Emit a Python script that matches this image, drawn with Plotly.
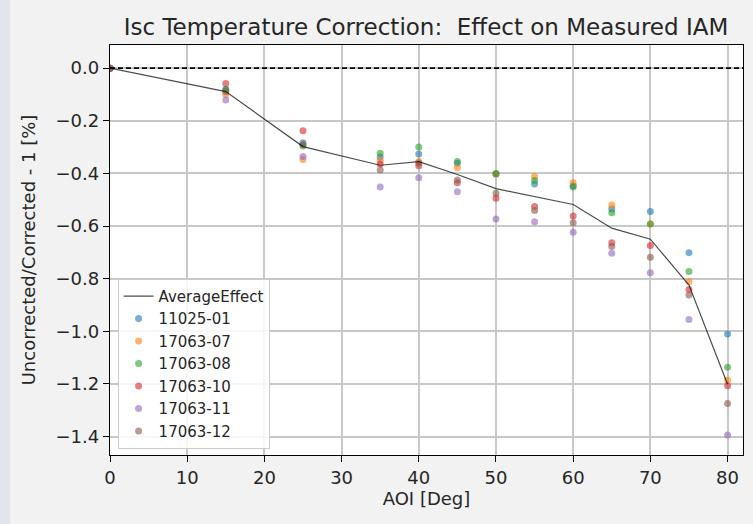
import plotly.graph_objects as go

aoi = [0, 15, 25, 35, 40, 45, 50, 55, 60, 65, 70, 75, 80]

s_11025_01 = [0.0, -0.080, -0.283, -0.338, -0.326, -0.361, -0.402, -0.440, -0.447, -0.535, -0.545, -0.701, -1.010]
s_17063_07 = [0.0, -0.100, -0.347, -0.351, -0.355, -0.378, -0.402, -0.412, -0.435, -0.520, -0.592, -0.811, -1.185]
s_17063_08 = [0.0, -0.083, -0.296, -0.323, -0.300, -0.355, -0.400, -0.427, -0.452, -0.549, -0.592, -0.773, -1.137]
s_17063_10 = [0.0, -0.058, -0.238, -0.364, -0.371, -0.435, -0.494, -0.526, -0.562, -0.663, -0.674, -0.841, -1.207]
s_17063_11 = [0.0, -0.121, -0.336, -0.452, -0.416, -0.470, -0.573, -0.584, -0.624, -0.703, -0.777, -0.955, -1.394]
s_17063_12 = [0.0, -0.090, -0.290, -0.387, -0.360, -0.425, -0.475, -0.541, -0.587, -0.678, -0.719, -0.862, -1.274]

average_effect = [0.0, -0.089, -0.298, -0.369, -0.355, -0.404, -0.458, -0.488, -0.518, -0.608, -0.650, -0.824, -1.201]

series_names = ["11025-01", "17063-07", "17063-08", "17063-10", "17063-11", "17063-12"]
series_values = [s_11025_01, s_17063_07, s_17063_08, s_17063_10, s_17063_11, s_17063_12]
colors = ["#1f77b4", "#ff7f0e", "#2ca02c", "#d62728", "#9467bd", "#8c564b"]

x_ticks = [0, 10, 20, 30, 40, 50, 60, 70, 80]
y_ticks = [0.0, -0.2, -0.4, -0.6, -0.8, -1.0, -1.2, -1.4]

FONT = "DejaVu Sans"
W, H = 753, 524
ML, MR, MT, MB = 110, 10, 45, 69
PW = W - ML - MR

fig = go.Figure()
for name, vals, c in zip(series_names, series_values, colors):
    fig.add_trace(go.Scatter(
        x=aoi, y=vals, mode="markers", name=name,
        marker=dict(color=c, size=7, opacity=0.6, line=dict(width=0)),
    ))

fig.add_trace(go.Scatter(
    x=aoi, y=average_effect, mode="lines", name="AverageEffect",
    line=dict(color="rgba(0,0,0,0.7)", width=1.2), legendrank=1,
))

fig.add_shape(type="line", xref="x domain", yref="y", x0=0, x1=1, y0=0, y1=0,
              line=dict(color="black", width=1.6, dash="5px,3px"))

# faint strip at the left edge of the page
fig.add_shape(type="rect", xref="paper", yref="paper", x0=-ML / PW, x1=-(ML - 10) / PW, y0=-0.3, y1=1.3,
              fillcolor="#e2e6ec", line=dict(width=0), layer="below")

fig.update_layout(
    width=W, height=H,
    margin=dict(l=ML, r=MR, t=MT, b=MB),
    paper_bgcolor="#f2f2f2", plot_bgcolor="white",
    font=dict(family=FONT, color="#262626", size=18),
    title=dict(text="Isc Temperature Correction:  Effect on Measured IAM",
               x=(426 - ML) / PW, xref="paper", xanchor="center", y=1 - 27 / H, yanchor="middle",
               font=dict(size=23, color="#262626"), automargin=False),
    showlegend=True,
    legend=dict(x=0.012, y=0.015, xanchor="left", yanchor="bottom",
                bgcolor="rgba(255,255,255,0.85)", bordercolor="#cccccc", borderwidth=1,
                font=dict(size=15, color="#262626"), tracegroupgap=0,
                itemwidth=30),
)

fig.update_xaxes(range=[0, 82], tickvals=x_ticks, ticktext=[str(v) for v in x_ticks],
                 showgrid=True, gridcolor="#c8c8c8", gridwidth=1.5,
                 showline=True, mirror=True, linecolor="black", linewidth=1.3,
                 ticks="outside", ticklen=6, tickcolor="black", zeroline=False,
                 automargin=False, tickfont=dict(size=18),
                 title=dict(text="AOI [Deg]", font=dict(size=18), standoff=0))
fig.update_yaxes(range=[-1.47, 0.088], tickvals=y_ticks,
                 ticktext=[("\u2212" if v < 0 else "") + f"{abs(v):.1f}" for v in y_ticks],
                 showgrid=True, gridcolor="#c8c8c8", gridwidth=1.5,
                 showline=True, mirror=True, linecolor="black", linewidth=1.3,
                 ticks="outside", ticklen=6, tickcolor="black", zeroline=False,
                 automargin=False, tickfont=dict(size=18),
                 title=dict(text="Uncorrected/Corrected - 1 [%]", font=dict(size=18)))

fig.write_html("out.html", config={"displayModeBar": False},
               post_script="document.body.style.margin='0';document.body.style.background='#f2f2f2';")
